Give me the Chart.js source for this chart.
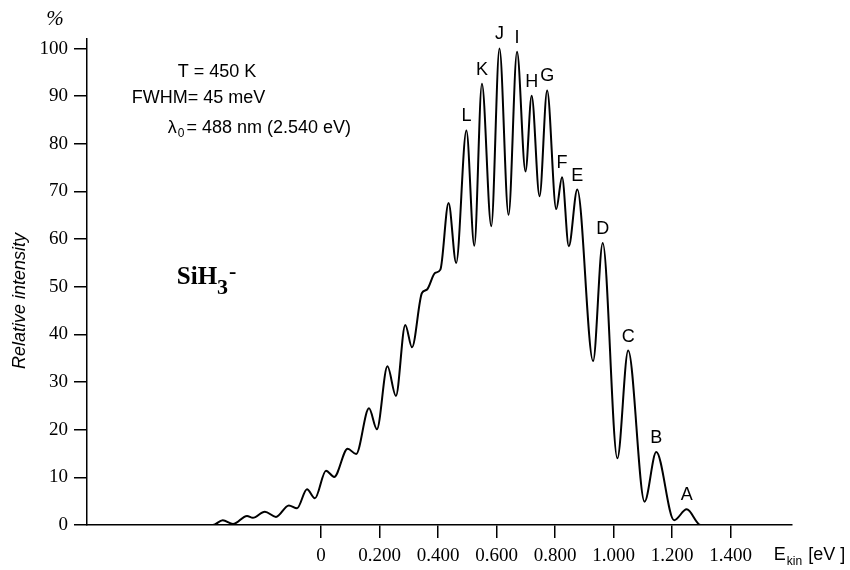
<!DOCTYPE html>
<html>
<head>
<meta charset="utf-8">
<title>SiH3- espectro</title>
<script src="https://cdn.jsdelivr.net/npm/chart.js@4.4.0/dist/chart.umd.min.js"></script>
<style>
  body { margin: 0; background: #fff; }
  #grafica { display: block; }
</style>
</head>
<body>
<canvas id="grafica" width="850" height="570"></canvas>
<script>
// Datos: energia cinetica (eV) e intensidad relativa (%)
var energia = [-0.8, -0.40, -0.370, -0.336, -0.301, -0.253, -0.233, -0.192, -0.154, -0.110,
  -0.082, -0.048, -0.021, 0.017, 0.045, 0.091, 0.120, 0.164, 0.191, 0.227,
  0.256, 0.288, 0.311, 0.345, 0.362, 0.390, 0.408, 0.436, 0.462, 0.497,
  0.524, 0.550, 0.582, 0.610, 0.641, 0.670, 0.699, 0.720, 0.747, 0.773,
  0.804, 0.824, 0.847, 0.876, 0.930, 0.963, 1.013, 1.050, 1.106, 1.146,
  1.207, 1.250, 1.298, 1.61];
var intensidad = [0, 0, 0.0, 1.0, 0.2, 1.9, 1.5, 2.8, 1.7, 4.1,
  3.5, 7.5, 5.6, 11.4, 10.1, 16.0, 14.9, 24.5, 20.1, 33.3,
  27.1, 42.0, 37.3, 48.7, 49.4, 52.9, 53.6, 67.6, 55.0, 82.8,
  58.6, 92.6, 62.7, 100.0, 65.1, 99.3, 74.2, 90.1, 69.0, 91.2,
  66.3, 73.0, 58.5, 70.4, 34.4, 59.2, 14.0, 36.6, 4.9, 15.3,
  1.0, 3.3, 0, 0];

var marcasX = [0, 0.2, 0.4, 0.6, 0.8, 1.0, 1.2, 1.4];
var marcasY = [0, 10, 20, 30, 40, 50, 60, 70, 80, 90, 100];

// Letras de los picos y energia de cada pico
var etiquetasPicos = ['L', 'K', 'J', 'I', 'H', 'G', 'F', 'E', 'D', 'C', 'B', 'A'];
var energiaPicos = [0.497, 0.550, 0.610, 0.670, 0.720, 0.773, 0.824, 0.876, 0.963, 1.050, 1.146, 1.250];

var sans = '"Liberation Sans", Arial, sans-serif';
var serif = '"Liberation Serif", "Times New Roman", serif';

// Plugin para los textos de la figura
var textos = {
  id: 'textos',
  afterDraw: function(chart) {
    var ctx = chart.ctx;
    var ejeX = chart.scales.x;
    var ejeY = chart.scales.y;
    var area = chart.chartArea;
    ctx.save();
    ctx.fillStyle = '#000';
    ctx.textBaseline = 'middle';

    // letras sobre los picos
    ctx.font = '18px ' + sans;
    ctx.textAlign = 'center';
    for (var i = 0; i < etiquetasPicos.length; i++) {
      var idx = energia.indexOf(energiaPicos[i]);
      ctx.fillText(etiquetasPicos[i], ejeX.getPixelForValue(energiaPicos[i]), ejeY.getPixelForValue(intensidad[idx]) - 14);
    }

    // parametros
    ctx.textAlign = 'left';
    ctx.font = '18px ' + sans;
    ctx.fillText('T = 450 K', ejeX.getPixelForValue(-0.49), ejeY.getPixelForValue(95.1));
    ctx.fillText('FWHM= 45 meV', ejeX.getPixelForValue(-0.647), ejeY.getPixelForValue(89.6));
    var px = ejeX.getPixelForValue(-0.524);
    var py = ejeY.getPixelForValue(83.4);
    ctx.fillText('\u03bb', px, py);
    var w = ctx.measureText('\u03bb').width;
    ctx.font = '12px ' + sans;
    ctx.fillText('0', px + w + 1, py + 6);
    var w0 = ctx.measureText('0').width;
    ctx.font = '18px ' + sans;
    ctx.fillText('= 488 nm (2.540 eV)', px + w + w0 + 3, py);

    // SiH3-
    px = ejeX.getPixelForValue(-0.493);
    py = ejeY.getPixelForValue(51.9);
    ctx.font = 'bold 25px ' + serif;
    ctx.fillText('SiH', px, py);
    w = ctx.measureText('SiH').width;
    ctx.font = 'bold 22px ' + serif;
    ctx.fillText('3', px + w, py + 11);
    var w3 = ctx.measureText('3').width;
    ctx.fillText('-', px + w + w3 + 1, py - 5);

    // unidad del eje y
    ctx.textAlign = 'center';
    ctx.font = 'italic 21px ' + serif;
    ctx.fillText('%', area.left - 32, ejeY.getPixelForValue(100) - 29);

    // titulo del eje y
    ctx.save();
    ctx.translate(20, ejeY.getPixelForValue(47));
    ctx.rotate(-Math.PI / 2);
    ctx.font = 'italic 18px ' + sans;
    ctx.fillText('Relative intensity', 0, 0);
    ctx.restore();

    // titulo del eje x
    ctx.textAlign = 'left';
    ctx.textBaseline = 'alphabetic';
    px = ejeX.getPixelForValue(1.548);
    py = area.bottom + 35;
    ctx.font = '18px ' + sans;
    ctx.fillText('E', px, py);
    w = ctx.measureText('E').width;
    ctx.font = '12px ' + sans;
    ctx.fillText('kin', px + w + 1, py + 5);
    var wk = ctx.measureText('kin').width;
    ctx.font = '18px ' + sans;
    ctx.fillText(' [eV ]', px + w + wk + 2, py);
    ctx.restore();
  }
};

var puntos = energia.map(function(e, i) {
  return { x: e, y: intensidad[i] };
});

var ctx = document.getElementById('grafica').getContext('2d');
var chart = new Chart(ctx, {
  type: 'line',
  data: {
    datasets: [{
      data: puntos,
      borderColor: '#000',
      borderWidth: 2,
      pointRadius: 0,
      fill: false,
      cubicInterpolationMode: 'monotone'
    }]
  },
  options: {
    responsive: false,
    animation: false,
    layout: { padding: { left: 0, right: 58, top: 39, bottom: 0 } },
    plugins: {
      legend: { display: false },
      tooltip: { enabled: false }
    },
    scales: {
      x: {
        type: 'linear',
        min: -0.8,
        max: 1.61,
        afterBuildTicks: function(eje) {
          eje.ticks = marcasX.map(function(v) { return { value: v }; });
        },
        afterFit: function(eje) { eje.height = 45; },
        grid: { drawOnChartArea: false, drawTicks: true, tickLength: 13, color: '#000', lineWidth: 1.5 },
        border: { display: true, color: '#000', width: 1.5 },
        ticks: {
          color: '#000',
          font: { family: serif, size: 19 },
          padding: 7,
          maxRotation: 0,
          autoSkip: false,
          callback: function(v) { return v === 0 ? '0' : v.toFixed(3); }
        }
      },
      y: {
        min: 0,
        max: 102,
        afterBuildTicks: function(eje) {
          eje.ticks = marcasY.map(function(v) { return { value: v }; });
        },
        afterFit: function(eje) { eje.width = 87; },
        grid: { drawOnChartArea: false, drawTicks: true, tickLength: 13, color: '#000', lineWidth: 1.5 },
        border: { display: true, color: '#000', width: 1.5 },
        ticks: {
          color: '#000',
          font: { family: serif, size: 19 },
          padding: 6,
          autoSkip: false
        }
      }
    }
  },
  plugins: [textos]
});
</script>
</body>
</html>
